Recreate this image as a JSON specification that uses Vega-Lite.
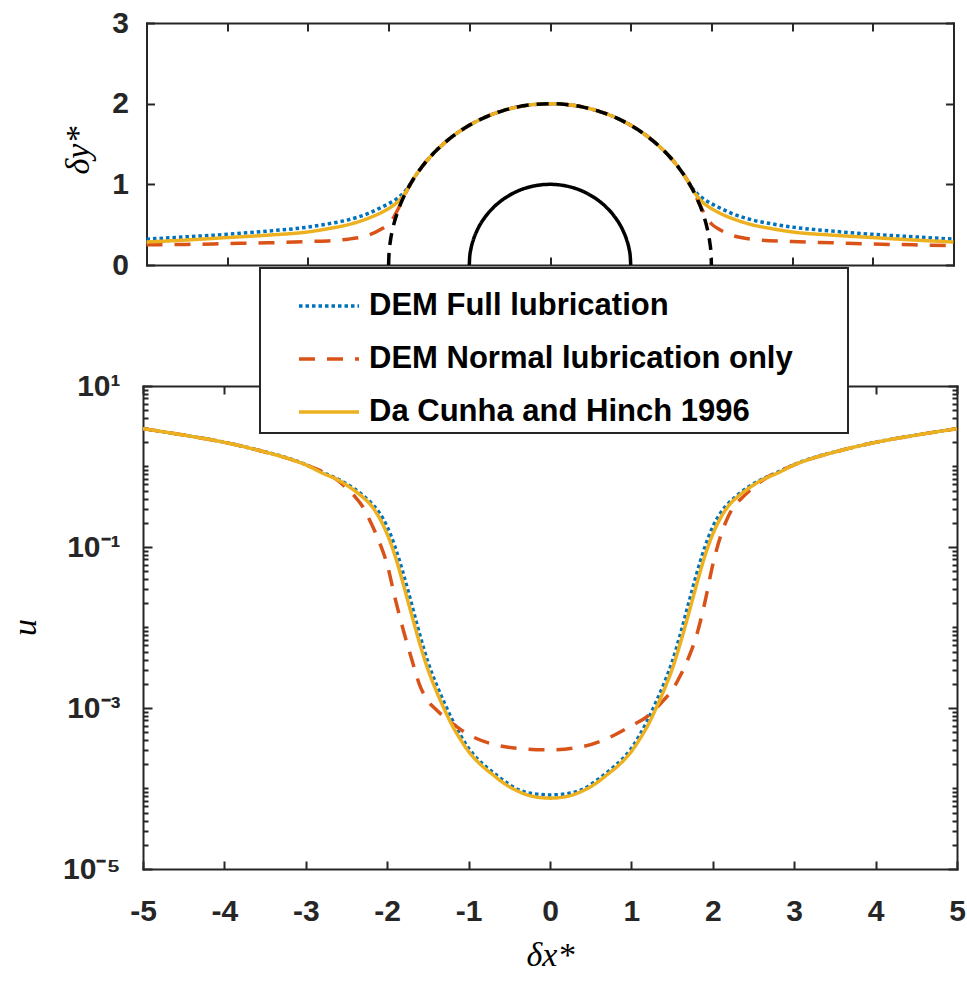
{
  "$schema": "https://vega.github.io/schema/vega-lite/v6.json",
  "padding": {"left": 8, "top": 8, "right": 5, "bottom": 5},
  "background": "white",
  "config": {
    "view": {"stroke": null},
    "axis": {"grid": false, "domainColor": "#262626", "domainWidth": 2, "domainCap": "square", "tickColor": "#262626", "tickWidth": 2, "labelColor": "#262626", "labelFont": "Liberation Sans", "labelFontWeight": "bold", "labelFontSize": 30, "labelFlush": false, "labelOverlap": false, "labelBound": false, "titleFont": "Liberation Serif", "titleFontStyle": "italic", "titleFontWeight": "normal", "titleFontSize": 34, "titleColor": "#000000"},
    "legend": {"symbolType": "stroke", "symbolSize": 3600, "symbolStrokeWidth": 3.5, "labelFont": "Liberation Sans", "labelFontWeight": "bold", "labelFontSize": 31, "labelColor": "#000000", "labelLimit": 2000, "padding": 6, "rowPadding": 6, "symbolOffset": 31, "labelOffset": 8, "fillColor": "white", "strokeColor": "#262626", "strokeWidth": 2}
  },
  "datasets": {
    "top": [
      {"x": -5, "y": 0.32, "s": "DEM Full lubrication"}, {"x": -4.5, "y": 0.35, "s": "DEM Full lubrication"}, {"x": -4, "y": 0.38, "s": "DEM Full lubrication"}, {"x": -3.5, "y": 0.42, "s": "DEM Full lubrication"}, {"x": -3, "y": 0.47, "s": "DEM Full lubrication"}, {"x": -2.75, "y": 0.51, "s": "DEM Full lubrication"}, {"x": -2.5, "y": 0.56, "s": "DEM Full lubrication"}, {"x": -2.25, "y": 0.64, "s": "DEM Full lubrication"}, {"x": -2.1, "y": 0.71, "s": "DEM Full lubrication"}, {"x": -2, "y": 0.76, "s": "DEM Full lubrication"}, {"x": -1.9, "y": 0.82, "s": "DEM Full lubrication"}, {"x": -1.85, "y": 0.86, "s": "DEM Full lubrication"}, {"x": -1.8, "y": 0.91, "s": "DEM Full lubrication"}, {"x": -1.75, "y": 0.975, "s": "DEM Full lubrication"}, {"x": -1.7, "y": 1.054, "s": "DEM Full lubrication"}, {"x": -1.6, "y": 1.2, "s": "DEM Full lubrication"}, {"x": -1.5, "y": 1.323, "s": "DEM Full lubrication"}, {"x": -1.4, "y": 1.428, "s": "DEM Full lubrication"}, {"x": -1.2, "y": 1.6, "s": "DEM Full lubrication"}, {"x": -1, "y": 1.732, "s": "DEM Full lubrication"}, {"x": -0.8, "y": 1.833, "s": "DEM Full lubrication"}, {"x": -0.6, "y": 1.908, "s": "DEM Full lubrication"}, {"x": -0.4, "y": 1.96, "s": "DEM Full lubrication"}, {"x": -0.2, "y": 1.99, "s": "DEM Full lubrication"}, {"x": 0, "y": 2, "s": "DEM Full lubrication"}, {"x": 0.2, "y": 1.99, "s": "DEM Full lubrication"}, {"x": 0.4, "y": 1.96, "s": "DEM Full lubrication"}, {"x": 0.6, "y": 1.908, "s": "DEM Full lubrication"}, {"x": 0.8, "y": 1.833, "s": "DEM Full lubrication"}, {"x": 1, "y": 1.732, "s": "DEM Full lubrication"}, {"x": 1.2, "y": 1.6, "s": "DEM Full lubrication"}, {"x": 1.4, "y": 1.428, "s": "DEM Full lubrication"}, {"x": 1.5, "y": 1.323, "s": "DEM Full lubrication"}, {"x": 1.6, "y": 1.2, "s": "DEM Full lubrication"}, {"x": 1.7, "y": 1.054, "s": "DEM Full lubrication"}, {"x": 1.75, "y": 0.975, "s": "DEM Full lubrication"}, {"x": 1.8, "y": 0.91, "s": "DEM Full lubrication"}, {"x": 1.85, "y": 0.86, "s": "DEM Full lubrication"}, {"x": 1.9, "y": 0.82, "s": "DEM Full lubrication"}, {"x": 2, "y": 0.76, "s": "DEM Full lubrication"}, {"x": 2.1, "y": 0.71, "s": "DEM Full lubrication"}, {"x": 2.25, "y": 0.64, "s": "DEM Full lubrication"}, {"x": 2.5, "y": 0.56, "s": "DEM Full lubrication"}, {"x": 2.75, "y": 0.51, "s": "DEM Full lubrication"}, {"x": 3, "y": 0.47, "s": "DEM Full lubrication"}, {"x": 3.5, "y": 0.42, "s": "DEM Full lubrication"}, {"x": 4, "y": 0.38, "s": "DEM Full lubrication"}, {"x": 4.5, "y": 0.35, "s": "DEM Full lubrication"}, {"x": 5, "y": 0.32, "s": "DEM Full lubrication"},
      {"x": -5, "y": 0.25, "s": "DEM Normal lubrication only"}, {"x": -4.5, "y": 0.255, "s": "DEM Normal lubrication only"}, {"x": -4, "y": 0.265, "s": "DEM Normal lubrication only"}, {"x": -3.5, "y": 0.275, "s": "DEM Normal lubrication only"}, {"x": -3, "y": 0.29, "s": "DEM Normal lubrication only"}, {"x": -2.5, "y": 0.32, "s": "DEM Normal lubrication only"}, {"x": -2.25, "y": 0.37, "s": "DEM Normal lubrication only"}, {"x": -2.1, "y": 0.44, "s": "DEM Normal lubrication only"}, {"x": -2, "y": 0.51, "s": "DEM Normal lubrication only"}, {"x": -1.95, "y": 0.57, "s": "DEM Normal lubrication only"}, {"x": -1.9, "y": 0.66, "s": "DEM Normal lubrication only"}, {"x": -1.85, "y": 0.76, "s": "DEM Normal lubrication only"}, {"x": -1.8, "y": 0.87, "s": "DEM Normal lubrication only"}, {"x": -1.75, "y": 0.965, "s": "DEM Normal lubrication only"}, {"x": -1.7, "y": 1.054, "s": "DEM Normal lubrication only"}, {"x": -1.6, "y": 1.2, "s": "DEM Normal lubrication only"}, {"x": -1.5, "y": 1.323, "s": "DEM Normal lubrication only"}, {"x": -1.4, "y": 1.428, "s": "DEM Normal lubrication only"}, {"x": -1.2, "y": 1.6, "s": "DEM Normal lubrication only"}, {"x": -1, "y": 1.732, "s": "DEM Normal lubrication only"}, {"x": -0.8, "y": 1.833, "s": "DEM Normal lubrication only"}, {"x": -0.6, "y": 1.908, "s": "DEM Normal lubrication only"}, {"x": -0.4, "y": 1.96, "s": "DEM Normal lubrication only"}, {"x": -0.2, "y": 1.99, "s": "DEM Normal lubrication only"}, {"x": 0, "y": 2, "s": "DEM Normal lubrication only"}, {"x": 0.2, "y": 1.99, "s": "DEM Normal lubrication only"}, {"x": 0.4, "y": 1.96, "s": "DEM Normal lubrication only"}, {"x": 0.6, "y": 1.908, "s": "DEM Normal lubrication only"}, {"x": 0.8, "y": 1.833, "s": "DEM Normal lubrication only"}, {"x": 1, "y": 1.732, "s": "DEM Normal lubrication only"}, {"x": 1.2, "y": 1.6, "s": "DEM Normal lubrication only"}, {"x": 1.4, "y": 1.428, "s": "DEM Normal lubrication only"}, {"x": 1.5, "y": 1.323, "s": "DEM Normal lubrication only"}, {"x": 1.6, "y": 1.2, "s": "DEM Normal lubrication only"}, {"x": 1.7, "y": 1.054, "s": "DEM Normal lubrication only"}, {"x": 1.75, "y": 0.965, "s": "DEM Normal lubrication only"}, {"x": 1.8, "y": 0.87, "s": "DEM Normal lubrication only"}, {"x": 1.85, "y": 0.76, "s": "DEM Normal lubrication only"}, {"x": 1.9, "y": 0.66, "s": "DEM Normal lubrication only"}, {"x": 1.95, "y": 0.57, "s": "DEM Normal lubrication only"}, {"x": 2, "y": 0.51, "s": "DEM Normal lubrication only"}, {"x": 2.1, "y": 0.44, "s": "DEM Normal lubrication only"}, {"x": 2.25, "y": 0.37, "s": "DEM Normal lubrication only"}, {"x": 2.5, "y": 0.32, "s": "DEM Normal lubrication only"}, {"x": 3, "y": 0.29, "s": "DEM Normal lubrication only"}, {"x": 3.5, "y": 0.275, "s": "DEM Normal lubrication only"}, {"x": 4, "y": 0.26, "s": "DEM Normal lubrication only"}, {"x": 4.5, "y": 0.25, "s": "DEM Normal lubrication only"}, {"x": 5, "y": 0.24, "s": "DEM Normal lubrication only"},
      {"x": -5, "y": 0.285, "s": "Da Cunha and Hinch 1996"}, {"x": -4.5, "y": 0.31, "s": "Da Cunha and Hinch 1996"}, {"x": -4, "y": 0.34, "s": "Da Cunha and Hinch 1996"}, {"x": -3.5, "y": 0.37, "s": "Da Cunha and Hinch 1996"}, {"x": -3, "y": 0.41, "s": "Da Cunha and Hinch 1996"}, {"x": -2.75, "y": 0.45, "s": "Da Cunha and Hinch 1996"}, {"x": -2.5, "y": 0.5, "s": "Da Cunha and Hinch 1996"}, {"x": -2.25, "y": 0.58, "s": "Da Cunha and Hinch 1996"}, {"x": -2.1, "y": 0.645, "s": "Da Cunha and Hinch 1996"}, {"x": -2, "y": 0.7, "s": "Da Cunha and Hinch 1996"}, {"x": -1.9, "y": 0.77, "s": "Da Cunha and Hinch 1996"}, {"x": -1.85, "y": 0.82, "s": "Da Cunha and Hinch 1996"}, {"x": -1.8, "y": 0.885, "s": "Da Cunha and Hinch 1996"}, {"x": -1.75, "y": 0.965, "s": "Da Cunha and Hinch 1996"}, {"x": -1.7, "y": 1.054, "s": "Da Cunha and Hinch 1996"}, {"x": -1.6, "y": 1.2, "s": "Da Cunha and Hinch 1996"}, {"x": -1.5, "y": 1.323, "s": "Da Cunha and Hinch 1996"}, {"x": -1.4, "y": 1.428, "s": "Da Cunha and Hinch 1996"}, {"x": -1.2, "y": 1.6, "s": "Da Cunha and Hinch 1996"}, {"x": -1, "y": 1.732, "s": "Da Cunha and Hinch 1996"}, {"x": -0.8, "y": 1.833, "s": "Da Cunha and Hinch 1996"}, {"x": -0.6, "y": 1.908, "s": "Da Cunha and Hinch 1996"}, {"x": -0.4, "y": 1.96, "s": "Da Cunha and Hinch 1996"}, {"x": -0.2, "y": 1.99, "s": "Da Cunha and Hinch 1996"}, {"x": 0, "y": 2, "s": "Da Cunha and Hinch 1996"}, {"x": 0.2, "y": 1.99, "s": "Da Cunha and Hinch 1996"}, {"x": 0.4, "y": 1.96, "s": "Da Cunha and Hinch 1996"}, {"x": 0.6, "y": 1.908, "s": "Da Cunha and Hinch 1996"}, {"x": 0.8, "y": 1.833, "s": "Da Cunha and Hinch 1996"}, {"x": 1, "y": 1.732, "s": "Da Cunha and Hinch 1996"}, {"x": 1.2, "y": 1.6, "s": "Da Cunha and Hinch 1996"}, {"x": 1.4, "y": 1.428, "s": "Da Cunha and Hinch 1996"}, {"x": 1.5, "y": 1.323, "s": "Da Cunha and Hinch 1996"}, {"x": 1.6, "y": 1.2, "s": "Da Cunha and Hinch 1996"}, {"x": 1.7, "y": 1.054, "s": "Da Cunha and Hinch 1996"}, {"x": 1.75, "y": 0.965, "s": "Da Cunha and Hinch 1996"}, {"x": 1.8, "y": 0.885, "s": "Da Cunha and Hinch 1996"}, {"x": 1.85, "y": 0.82, "s": "Da Cunha and Hinch 1996"}, {"x": 1.9, "y": 0.77, "s": "Da Cunha and Hinch 1996"}, {"x": 2, "y": 0.7, "s": "Da Cunha and Hinch 1996"}, {"x": 2.1, "y": 0.645, "s": "Da Cunha and Hinch 1996"}, {"x": 2.25, "y": 0.58, "s": "Da Cunha and Hinch 1996"}, {"x": 2.5, "y": 0.5, "s": "Da Cunha and Hinch 1996"}, {"x": 2.75, "y": 0.45, "s": "Da Cunha and Hinch 1996"}, {"x": 3, "y": 0.41, "s": "Da Cunha and Hinch 1996"}, {"x": 3.5, "y": 0.37, "s": "Da Cunha and Hinch 1996"}, {"x": 4, "y": 0.34, "s": "Da Cunha and Hinch 1996"}, {"x": 4.5, "y": 0.31, "s": "Da Cunha and Hinch 1996"}, {"x": 5, "y": 0.285, "s": "Da Cunha and Hinch 1996"},
      {"x": -2, "y": 0, "s": "r2"}, {"x": -1.995, "y": 0.141, "s": "r2"}, {"x": -1.98, "y": 0.282, "s": "r2"}, {"x": -1.95, "y": 0.444, "s": "r2"}, {"x": -1.9, "y": 0.624, "s": "r2"}, {"x": -1.85, "y": 0.76, "s": "r2"}, {"x": -1.8, "y": 0.872, "s": "r2"}, {"x": -1.7, "y": 1.054, "s": "r2"}, {"x": -1.6, "y": 1.2, "s": "r2"}, {"x": -1.5, "y": 1.323, "s": "r2"}, {"x": -1.4, "y": 1.428, "s": "r2"}, {"x": -1.2, "y": 1.6, "s": "r2"}, {"x": -1, "y": 1.732, "s": "r2"}, {"x": -0.8, "y": 1.833, "s": "r2"}, {"x": -0.6, "y": 1.908, "s": "r2"}, {"x": -0.4, "y": 1.96, "s": "r2"}, {"x": -0.2, "y": 1.99, "s": "r2"}, {"x": 0, "y": 2, "s": "r2"}, {"x": 0.2, "y": 1.99, "s": "r2"}, {"x": 0.4, "y": 1.96, "s": "r2"}, {"x": 0.6, "y": 1.908, "s": "r2"}, {"x": 0.8, "y": 1.833, "s": "r2"}, {"x": 1, "y": 1.732, "s": "r2"}, {"x": 1.2, "y": 1.6, "s": "r2"}, {"x": 1.4, "y": 1.428, "s": "r2"}, {"x": 1.5, "y": 1.323, "s": "r2"}, {"x": 1.6, "y": 1.2, "s": "r2"}, {"x": 1.7, "y": 1.054, "s": "r2"}, {"x": 1.8, "y": 0.872, "s": "r2"}, {"x": 1.85, "y": 0.76, "s": "r2"}, {"x": 1.9, "y": 0.624, "s": "r2"}, {"x": 1.95, "y": 0.444, "s": "r2"}, {"x": 1.98, "y": 0.282, "s": "r2"}, {"x": 1.995, "y": 0.141, "s": "r2"}, {"x": 2, "y": 0, "s": "r2"},
      {"x": -1, "y": 0, "s": "r1"}, {"x": -0.995, "y": 0.1, "s": "r1"}, {"x": -0.98, "y": 0.199, "s": "r1"}, {"x": -0.95, "y": 0.312, "s": "r1"}, {"x": -0.9, "y": 0.436, "s": "r1"}, {"x": -0.8, "y": 0.6, "s": "r1"}, {"x": -0.7, "y": 0.714, "s": "r1"}, {"x": -0.6, "y": 0.8, "s": "r1"}, {"x": -0.5, "y": 0.866, "s": "r1"}, {"x": -0.4, "y": 0.917, "s": "r1"}, {"x": -0.3, "y": 0.954, "s": "r1"}, {"x": -0.2, "y": 0.98, "s": "r1"}, {"x": -0.1, "y": 0.995, "s": "r1"}, {"x": 0, "y": 1, "s": "r1"}, {"x": 0.1, "y": 0.995, "s": "r1"}, {"x": 0.2, "y": 0.98, "s": "r1"}, {"x": 0.3, "y": 0.954, "s": "r1"}, {"x": 0.4, "y": 0.917, "s": "r1"}, {"x": 0.5, "y": 0.866, "s": "r1"}, {"x": 0.6, "y": 0.8, "s": "r1"}, {"x": 0.7, "y": 0.714, "s": "r1"}, {"x": 0.8, "y": 0.6, "s": "r1"}, {"x": 0.9, "y": 0.436, "s": "r1"}, {"x": 0.95, "y": 0.312, "s": "r1"}, {"x": 0.98, "y": 0.199, "s": "r1"}, {"x": 0.995, "y": 0.1, "s": "r1"}, {"x": 1, "y": 0, "s": "r1"}
    ],
    "bottom": [
      {"x": -5, "u": 2.951, "s": "DEM Full lubrication"}, {"x": -4.5, "u": 2.455, "s": "DEM Full lubrication"}, {"x": -4, "u": 2.0, "s": "DEM Full lubrication"}, {"x": -3.5, "u": 1.52, "s": "DEM Full lubrication"}, {"x": -3.25, "u": 1.3, "s": "DEM Full lubrication"}, {"x": -3, "u": 1.059, "s": "DEM Full lubrication"}, {"x": -2.8, "u": 0.851, "s": "DEM Full lubrication"}, {"x": -2.6, "u": 0.692, "s": "DEM Full lubrication"}, {"x": -2.4, "u": 0.525, "s": "DEM Full lubrication"}, {"x": -2.3, "u": 0.437, "s": "DEM Full lubrication"}, {"x": -2.2, "u": 0.355, "s": "DEM Full lubrication"}, {"x": -2.1, "u": 0.269, "s": "DEM Full lubrication"}, {"x": -2, "u": 0.178, "s": "DEM Full lubrication"}, {"x": -1.9, "u": 0.0977, "s": "DEM Full lubrication"}, {"x": -1.8, "u": 0.0457, "s": "DEM Full lubrication"}, {"x": -1.7, "u": 0.0195, "s": "DEM Full lubrication"}, {"x": -1.6, "u": 0.00813, "s": "DEM Full lubrication"}, {"x": -1.5, "u": 0.00372, "s": "DEM Full lubrication"}, {"x": -1.4, "u": 0.002, "s": "DEM Full lubrication"}, {"x": -1.3, "u": 0.00117, "s": "DEM Full lubrication"}, {"x": -1.2, "u": 0.000708, "s": "DEM Full lubrication"}, {"x": -1.1, "u": 0.000457, "s": "DEM Full lubrication"}, {"x": -1, "u": 0.000316, "s": "DEM Full lubrication"}, {"x": -0.9, "u": 0.000238, "s": "DEM Full lubrication"}, {"x": -0.8, "u": 0.000192, "s": "DEM Full lubrication"}, {"x": -0.7, "u": 0.000158, "s": "DEM Full lubrication"}, {"x": -0.6, "u": 0.000132, "s": "DEM Full lubrication"}, {"x": -0.4, "u": 0.0000977, "s": "DEM Full lubrication"}, {"x": -0.2, "u": 0.000086, "s": "DEM Full lubrication"}, {"x": 0, "u": 0.0000832, "s": "DEM Full lubrication"}, {"x": 0.2, "u": 0.000086, "s": "DEM Full lubrication"}, {"x": 0.4, "u": 0.0000977, "s": "DEM Full lubrication"}, {"x": 0.6, "u": 0.000132, "s": "DEM Full lubrication"}, {"x": 0.7, "u": 0.000158, "s": "DEM Full lubrication"}, {"x": 0.8, "u": 0.000192, "s": "DEM Full lubrication"}, {"x": 0.9, "u": 0.000238, "s": "DEM Full lubrication"}, {"x": 1, "u": 0.000316, "s": "DEM Full lubrication"}, {"x": 1.1, "u": 0.000457, "s": "DEM Full lubrication"}, {"x": 1.2, "u": 0.000708, "s": "DEM Full lubrication"}, {"x": 1.3, "u": 0.00117, "s": "DEM Full lubrication"}, {"x": 1.4, "u": 0.002, "s": "DEM Full lubrication"}, {"x": 1.5, "u": 0.00372, "s": "DEM Full lubrication"}, {"x": 1.6, "u": 0.00813, "s": "DEM Full lubrication"}, {"x": 1.7, "u": 0.0195, "s": "DEM Full lubrication"}, {"x": 1.8, "u": 0.0457, "s": "DEM Full lubrication"}, {"x": 1.9, "u": 0.0977, "s": "DEM Full lubrication"}, {"x": 2, "u": 0.178, "s": "DEM Full lubrication"}, {"x": 2.1, "u": 0.269, "s": "DEM Full lubrication"}, {"x": 2.2, "u": 0.355, "s": "DEM Full lubrication"}, {"x": 2.3, "u": 0.437, "s": "DEM Full lubrication"}, {"x": 2.4, "u": 0.525, "s": "DEM Full lubrication"}, {"x": 2.6, "u": 0.692, "s": "DEM Full lubrication"}, {"x": 2.8, "u": 0.851, "s": "DEM Full lubrication"}, {"x": 3, "u": 1.059, "s": "DEM Full lubrication"}, {"x": 3.25, "u": 1.3, "s": "DEM Full lubrication"}, {"x": 3.5, "u": 1.52, "s": "DEM Full lubrication"}, {"x": 4, "u": 2.0, "s": "DEM Full lubrication"}, {"x": 4.5, "u": 2.455, "s": "DEM Full lubrication"}, {"x": 5, "u": 2.951, "s": "DEM Full lubrication"},
      {"x": -5, "u": 2.951, "s": "DEM Normal lubrication only"}, {"x": -4.5, "u": 2.455, "s": "DEM Normal lubrication only"}, {"x": -4, "u": 1.995, "s": "DEM Normal lubrication only"}, {"x": -3.5, "u": 1.514, "s": "DEM Normal lubrication only"}, {"x": -3, "u": 1.047, "s": "DEM Normal lubrication only"}, {"x": -2.6, "u": 0.661, "s": "DEM Normal lubrication only"}, {"x": -2.5, "u": 0.537, "s": "DEM Normal lubrication only"}, {"x": -2.4, "u": 0.427, "s": "DEM Normal lubrication only"}, {"x": -2.3, "u": 0.316, "s": "DEM Normal lubrication only"}, {"x": -2.2, "u": 0.1995, "s": "DEM Normal lubrication only"}, {"x": -2.1, "u": 0.1175, "s": "DEM Normal lubrication only"}, {"x": -2, "u": 0.0603, "s": "DEM Normal lubrication only"}, {"x": -1.9, "u": 0.0224, "s": "DEM Normal lubrication only"}, {"x": -1.8, "u": 0.00912, "s": "DEM Normal lubrication only"}, {"x": -1.7, "u": 0.00407, "s": "DEM Normal lubrication only"}, {"x": -1.6, "u": 0.00191, "s": "DEM Normal lubrication only"}, {"x": -1.5, "u": 0.00123, "s": "DEM Normal lubrication only"}, {"x": -1.4, "u": 0.000955, "s": "DEM Normal lubrication only"}, {"x": -1.3, "u": 0.000776, "s": "DEM Normal lubrication only"}, {"x": -1.2, "u": 0.000646, "s": "DEM Normal lubrication only"}, {"x": -1, "u": 0.000468, "s": "DEM Normal lubrication only"}, {"x": -0.7, "u": 0.000355, "s": "DEM Normal lubrication only"}, {"x": -0.4, "u": 0.000316, "s": "DEM Normal lubrication only"}, {"x": 0, "u": 0.000302, "s": "DEM Normal lubrication only"}, {"x": 0.4, "u": 0.000331, "s": "DEM Normal lubrication only"}, {"x": 0.7, "u": 0.000417, "s": "DEM Normal lubrication only"}, {"x": 1, "u": 0.000603, "s": "DEM Normal lubrication only"}, {"x": 1.2, "u": 0.000794, "s": "DEM Normal lubrication only"}, {"x": 1.4, "u": 0.00126, "s": "DEM Normal lubrication only"}, {"x": 1.5, "u": 0.00166, "s": "DEM Normal lubrication only"}, {"x": 1.6, "u": 0.00251, "s": "DEM Normal lubrication only"}, {"x": 1.7, "u": 0.00417, "s": "DEM Normal lubrication only"}, {"x": 1.8, "u": 0.00794, "s": "DEM Normal lubrication only"}, {"x": 1.9, "u": 0.02, "s": "DEM Normal lubrication only"}, {"x": 2, "u": 0.0603, "s": "DEM Normal lubrication only"}, {"x": 2.1, "u": 0.141, "s": "DEM Normal lubrication only"}, {"x": 2.2, "u": 0.251, "s": "DEM Normal lubrication only"}, {"x": 2.4, "u": 0.447, "s": "DEM Normal lubrication only"}, {"x": 2.6, "u": 0.661, "s": "DEM Normal lubrication only"}, {"x": 3, "u": 1.047, "s": "DEM Normal lubrication only"}, {"x": 3.5, "u": 1.514, "s": "DEM Normal lubrication only"}, {"x": 4, "u": 1.995, "s": "DEM Normal lubrication only"}, {"x": 4.5, "u": 2.455, "s": "DEM Normal lubrication only"}, {"x": 5, "u": 2.951, "s": "DEM Normal lubrication only"},
      {"x": -5, "u": 2.951, "s": "Da Cunha and Hinch 1996"}, {"x": -4.5, "u": 2.455, "s": "Da Cunha and Hinch 1996"}, {"x": -4, "u": 1.995, "s": "Da Cunha and Hinch 1996"}, {"x": -3.5, "u": 1.514, "s": "Da Cunha and Hinch 1996"}, {"x": -3.25, "u": 1.288, "s": "Da Cunha and Hinch 1996"}, {"x": -3, "u": 1.047, "s": "Da Cunha and Hinch 1996"}, {"x": -2.8, "u": 0.832, "s": "Da Cunha and Hinch 1996"}, {"x": -2.6, "u": 0.676, "s": "Da Cunha and Hinch 1996"}, {"x": -2.4, "u": 0.501, "s": "Da Cunha and Hinch 1996"}, {"x": -2.3, "u": 0.417, "s": "Da Cunha and Hinch 1996"}, {"x": -2.2, "u": 0.331, "s": "Da Cunha and Hinch 1996"}, {"x": -2.1, "u": 0.234, "s": "Da Cunha and Hinch 1996"}, {"x": -2, "u": 0.1445, "s": "Da Cunha and Hinch 1996"}, {"x": -1.9, "u": 0.0759, "s": "Da Cunha and Hinch 1996"}, {"x": -1.8, "u": 0.0339, "s": "Da Cunha and Hinch 1996"}, {"x": -1.7, "u": 0.01445, "s": "Da Cunha and Hinch 1996"}, {"x": -1.6, "u": 0.00631, "s": "Da Cunha and Hinch 1996"}, {"x": -1.5, "u": 0.00302, "s": "Da Cunha and Hinch 1996"}, {"x": -1.4, "u": 0.00166, "s": "Da Cunha and Hinch 1996"}, {"x": -1.3, "u": 0.000977, "s": "Da Cunha and Hinch 1996"}, {"x": -1.2, "u": 0.000603, "s": "Da Cunha and Hinch 1996"}, {"x": -1.1, "u": 0.000407, "s": "Da Cunha and Hinch 1996"}, {"x": -1, "u": 0.000288, "s": "Da Cunha and Hinch 1996"}, {"x": -0.9, "u": 0.000221, "s": "Da Cunha and Hinch 1996"}, {"x": -0.8, "u": 0.000178, "s": "Da Cunha and Hinch 1996"}, {"x": -0.7, "u": 0.000148, "s": "Da Cunha and Hinch 1996"}, {"x": -0.6, "u": 0.000123, "s": "Da Cunha and Hinch 1996"}, {"x": -0.4, "u": 0.0000933, "s": "Da Cunha and Hinch 1996"}, {"x": -0.2, "u": 0.0000794, "s": "Da Cunha and Hinch 1996"}, {"x": 0, "u": 0.0000759, "s": "Da Cunha and Hinch 1996"}, {"x": 0.2, "u": 0.0000794, "s": "Da Cunha and Hinch 1996"}, {"x": 0.4, "u": 0.0000933, "s": "Da Cunha and Hinch 1996"}, {"x": 0.6, "u": 0.000123, "s": "Da Cunha and Hinch 1996"}, {"x": 0.7, "u": 0.000148, "s": "Da Cunha and Hinch 1996"}, {"x": 0.8, "u": 0.000178, "s": "Da Cunha and Hinch 1996"}, {"x": 0.9, "u": 0.000221, "s": "Da Cunha and Hinch 1996"}, {"x": 1, "u": 0.000288, "s": "Da Cunha and Hinch 1996"}, {"x": 1.1, "u": 0.000407, "s": "Da Cunha and Hinch 1996"}, {"x": 1.2, "u": 0.000603, "s": "Da Cunha and Hinch 1996"}, {"x": 1.3, "u": 0.000977, "s": "Da Cunha and Hinch 1996"}, {"x": 1.4, "u": 0.00166, "s": "Da Cunha and Hinch 1996"}, {"x": 1.5, "u": 0.00302, "s": "Da Cunha and Hinch 1996"}, {"x": 1.6, "u": 0.00631, "s": "Da Cunha and Hinch 1996"}, {"x": 1.7, "u": 0.01445, "s": "Da Cunha and Hinch 1996"}, {"x": 1.8, "u": 0.0339, "s": "Da Cunha and Hinch 1996"}, {"x": 1.9, "u": 0.0759, "s": "Da Cunha and Hinch 1996"}, {"x": 2, "u": 0.1445, "s": "Da Cunha and Hinch 1996"}, {"x": 2.1, "u": 0.234, "s": "Da Cunha and Hinch 1996"}, {"x": 2.2, "u": 0.331, "s": "Da Cunha and Hinch 1996"}, {"x": 2.3, "u": 0.417, "s": "Da Cunha and Hinch 1996"}, {"x": 2.4, "u": 0.501, "s": "Da Cunha and Hinch 1996"}, {"x": 2.6, "u": 0.676, "s": "Da Cunha and Hinch 1996"}, {"x": 2.8, "u": 0.832, "s": "Da Cunha and Hinch 1996"}, {"x": 3, "u": 1.047, "s": "Da Cunha and Hinch 1996"}, {"x": 3.25, "u": 1.288, "s": "Da Cunha and Hinch 1996"}, {"x": 3.5, "u": 1.514, "s": "Da Cunha and Hinch 1996"}, {"x": 4, "u": 1.995, "s": "Da Cunha and Hinch 1996"}, {"x": 4.5, "u": 2.455, "s": "Da Cunha and Hinch 1996"}, {"x": 5, "u": 2.951, "s": "Da Cunha and Hinch 1996"}
    ]
  },
  "spacing": 121,
  "bounds": "flush",
  "center": true,
  "resolve": {"scale": {"color": "independent", "strokeDash": "independent"}},
  "vconcat": [
    {
      "width": 807,
      "height": 242,
      "data": {"name": "top"},
      "layer": [
        {
          "mark": {"type": "line", "strokeWidth": 3.5, "interpolate": "monotone"},
          "encoding": {
            "x": {"field": "x", "type": "quantitative", "scale": {"domain": [-5, 5], "nice": false, "zero": false},
              "axis": {"orient": "bottom", "values": [-5, -4, -3, -2, -1, 0, 1, 2, 3, 4, 5], "labels": false, "tickSize": -8, "title": null}},
            "y": {"field": "y", "type": "quantitative", "scale": {"domain": [0, 3], "nice": false},
              "axis": {"orient": "left", "values": [0, 1, 2, 3], "tickSize": -8, "labelPadding": 26, "title": "δy*", "titleX": -68, "titleY": 127, "titleAngle": -90, "titleBaseline": "middle", "titleAlign": "center"}},
            "color": {"field": "s", "type": "nominal", "legend": null,
              "scale": {"domain": ["DEM Full lubrication", "DEM Normal lubrication only", "Da Cunha and Hinch 1996", "r2", "r1"], "range": ["#0072BD", "#D95319", "#EDB120", "#000000", "#000000"]}},
            "strokeDash": {"field": "s", "type": "nominal", "legend": null,
              "scale": {"domain": ["DEM Full lubrication", "DEM Normal lubrication only", "Da Cunha and Hinch 1996", "r2", "r1"], "range": [[3.5, 3], [16, 12], [1, 0], [12, 8], [1, 0]]}}
          }
        },
        {
          "mark": {"type": "point", "opacity": 0},
          "encoding": {
            "x": {"field": "x", "type": "quantitative", "axis": {"orient": "top", "values": [-5, -4, -3, -2, -1, 0, 1, 2, 3, 4, 5], "labels": false, "tickSize": -8, "title": null}},
            "y": {"field": "y", "type": "quantitative", "axis": {"orient": "right", "values": [0, 1, 2, 3], "labels": false, "tickSize": -8, "title": null}}
          }
        }
      ],
      "resolve": {"axis": {"x": "independent", "y": "independent"}}
    },
    {
      "width": 814,
      "height": 483,
      "data": {"name": "bottom"},
      "layer": [
        {
          "mark": {"type": "line", "strokeWidth": 3.5, "interpolate": "monotone"},
          "encoding": {
            "x": {"field": "x", "type": "quantitative", "scale": {"domain": [-5, 5], "nice": false, "zero": false},
              "axis": {"orient": "bottom", "values": [-5, -4, -3, -2, -1, 0, 1, 2, 3, 4, 5], "tickSize": -8, "labelPadding": 35, "labelExpr": "datum.value < 0 ? '-' + (-datum.value) : '' + datum.value", "title": "δx*", "titleY": 86, "titleBaseline": "middle", "titleAlign": "center"}},
            "y": {"field": "u", "type": "quantitative", "scale": {"type": "log", "domain": [0.00001, 10], "nice": false},
              "axis": {"orient": "left",
                "values": [0.00001, 0.00002, 0.00003, 0.00004, 0.00005, 0.00006, 0.00007, 0.00008, 0.00009, 0.0001, 0.0002, 0.0003, 0.0004, 0.0005, 0.0006, 0.0007, 0.0008, 0.0009, 0.001, 0.002, 0.003, 0.004, 0.005, 0.006, 0.007, 0.008, 0.009, 0.01, 0.02, 0.03, 0.04, 0.05, 0.06, 0.07, 0.08, 0.09, 0.1, 0.2, 0.3, 0.4, 0.5, 0.6, 0.7, 0.8, 0.9, 1, 2, 3, 4, 5, 6, 7, 8, 9, 10],
                "tickSize": {"condition": {"test": "datum.value === 10 || datum.value === 0.1 || datum.value === 0.001 || datum.value === 0.00001", "value": -9}, "value": -5},
                "labelPadding": 32,
                "labelExpr": "datum.value === 10 ? '10¹' : datum.value === 0.1 ? '10⁻¹' : datum.value === 0.001 ? '10⁻³' : datum.value === 0.00001 ? '10⁻⁵' : ''",
                "title": "u", "titleX": -118, "titleY": 241, "titleAngle": -90, "titleBaseline": "middle", "titleAlign": "center"}},
            "color": {"field": "s", "type": "nominal",
              "scale": {"domain": ["DEM Full lubrication", "DEM Normal lubrication only", "Da Cunha and Hinch 1996"], "range": ["#0072BD", "#D95319", "#EDB120"]},
              "legend": {"orient": "none", "legendX": 117, "legendY": -118, "title": null, "rowPadding": 6, "padding": 6, "labelExpr": "datum.label + '\u00a0\u00a0\u00a0\u00a0\u00a0\u2009\u200b'"}},
            "strokeDash": {"field": "s", "type": "nominal",
              "scale": {"domain": ["DEM Full lubrication", "DEM Normal lubrication only", "Da Cunha and Hinch 1996"], "range": [[3.5, 3], [16, 12], [1, 0]]},
              "legend": {"orient": "none", "legendX": 117, "legendY": -118, "title": null, "rowPadding": 6, "padding": 6, "labelExpr": "datum.label + '\u00a0\u00a0\u00a0\u00a0\u00a0\u2009\u200b'"}}
          }
        },
        {
          "mark": {"type": "point", "opacity": 0},
          "encoding": {
            "x": {"field": "x", "type": "quantitative", "axis": {"orient": "top", "values": [-5, -4, -3, -2, -1, 0, 1, 2, 3, 4, 5], "labels": false, "tickSize": -8, "title": null}},
            "y": {"field": "u", "type": "quantitative",
              "axis": {"orient": "right",
                "values": [0.00001, 0.00002, 0.00003, 0.00004, 0.00005, 0.00006, 0.00007, 0.00008, 0.00009, 0.0001, 0.0002, 0.0003, 0.0004, 0.0005, 0.0006, 0.0007, 0.0008, 0.0009, 0.001, 0.002, 0.003, 0.004, 0.005, 0.006, 0.007, 0.008, 0.009, 0.01, 0.02, 0.03, 0.04, 0.05, 0.06, 0.07, 0.08, 0.09, 0.1, 0.2, 0.3, 0.4, 0.5, 0.6, 0.7, 0.8, 0.9, 1, 2, 3, 4, 5, 6, 7, 8, 9, 10],
                "tickSize": {"condition": {"test": "datum.value === 10 || datum.value === 0.1 || datum.value === 0.001 || datum.value === 0.00001", "value": -9}, "value": -5},
                "labels": false, "title": null}}
          }
        }
      ],
      "resolve": {"axis": {"x": "independent", "y": "independent"}}
    }
  ]
}
